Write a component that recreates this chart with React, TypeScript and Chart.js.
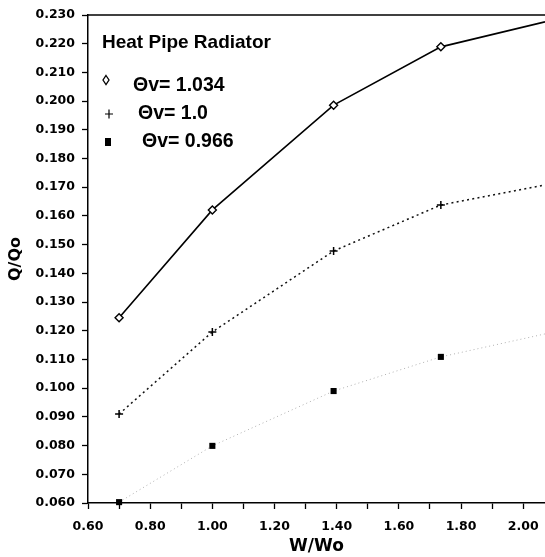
import React, { useEffect, useRef } from 'react';
import { Chart, registerables } from 'chart.js';

Chart.register(...registerables);

// ---- data ----
const wRatio = [0.70, 1.00, 1.39, 1.735, 2.07];
const qHigh = [0.1245, 0.1621, 0.1986, 0.2189, 0.2276];
const qMid = [0.0910, 0.1196, 0.1478, 0.1638, 0.1708];
const qLow = [0.0603, 0.0799, 0.0990, 0.1109, 0.1189];
const seriesLabels = ['Θv= 1.034', 'Θv= 1.0', 'Θv= 0.966'];
const legendTitle = 'Heat Pipe Radiator';
const xTitle = 'W/Wo';
const yTitle = 'Q/Qo';
const xMin = 0.6;
const xMax = 2.07;
const xStep = 0.1;
const yMin = 0.06;
const yMax = 0.23;
const yStep = 0.01;

const W = 545;
const H = 557;

const toPoints = (ys: number[]) => ys.map((y, i) => ({ x: wRatio[i], y }));
const radii = wRatio.map((x) => (x >= xMax ? 0 : 4));

const frameAndLegend = {
  id: 'frameAndLegend',
  afterDraw(chart: any) {
    const { ctx, chartArea } = chart;
    const { left, top, right } = chartArea;
    ctx.save();
    // top frame line
    ctx.strokeStyle = '#000';
    ctx.lineWidth = 1.5;
    ctx.beginPath();
    ctx.moveTo(left, top);
    ctx.lineTo(right, top);
    ctx.stroke();

    // legend title
    ctx.fillStyle = '#000';
    ctx.textBaseline = 'alphabetic';
    ctx.textAlign = 'left';
    ctx.font = 'bold 19px "Liberation Sans", Arial, sans-serif';
    ctx.fillText(legendTitle, left + 14, top + 33);

    ctx.font = 'bold 19.5px "Liberation Sans", Arial, sans-serif';
    // item 1: hollow diamond
    const d1x = left + 18, d1y = top + 65;
    ctx.lineWidth = 1.3;
    ctx.beginPath();
    ctx.moveTo(d1x, d1y - 4.5);
    ctx.lineTo(d1x + 3, d1y);
    ctx.lineTo(d1x, d1y + 4.5);
    ctx.lineTo(d1x - 3, d1y);
    ctx.closePath();
    ctx.stroke();
    ctx.fillText(seriesLabels[0], left + 45, top + 76);

    // item 2: plus
    const p2x = left + 21, p2y = top + 99;
    ctx.lineWidth = 1.2;
    ctx.beginPath();
    ctx.moveTo(p2x - 4, p2y);
    ctx.lineTo(p2x + 4, p2y);
    ctx.moveTo(p2x, p2y - 4.5);
    ctx.lineTo(p2x, p2y + 4.5);
    ctx.stroke();
    ctx.fillText(seriesLabels[1], left + 50, top + 104);

    // item 3: filled square
    const s3x = left + 20, s3y = top + 127;
    ctx.fillRect(s3x - 3, s3y - 4, 6, 8);
    ctx.fillText(seriesLabels[2], left + 54, top + 132);
    ctx.restore();
  },
};

export default function App() {
  const ref = useRef<HTMLCanvasElement | null>(null);

  useEffect(() => {
    if (!ref.current) return;
    const tickFont = { family: '"DejaVu Sans", Verdana, sans-serif', size: 12.5, weight: 'bold' as const };
    const chart = new Chart(ref.current, {
      type: 'line',
      data: {
        datasets: [
          {
            label: seriesLabels[0],
            data: toPoints(qHigh),
            borderColor: '#000',
            borderWidth: 1.6,
            pointStyle: 'rectRot',
            pointRadius: radii,
            pointBackgroundColor: '#fff',
            pointBorderColor: '#000',
            pointBorderWidth: 1.4,
            tension: 0,
            clip: false as any,
          },
          {
            label: seriesLabels[1],
            data: toPoints(qMid),
            borderColor: '#111',
            borderWidth: 1.5,
            borderDash: [2, 3.3],
            pointStyle: 'cross',
            pointRadius: radii,
            pointBorderColor: '#000',
            pointBorderWidth: 1.5,
            tension: 0,
            clip: false as any,
          },
          {
            label: seriesLabels[2],
            data: toPoints(qLow),
            borderColor: '#b0b0b0',
            borderWidth: 1,
            borderDash: [1, 3],
            pointStyle: 'rect',
            pointRadius: radii.map((r) => (r ? 4.3 : 0)),
            pointBackgroundColor: '#000',
            pointBorderColor: '#000',
            pointBorderWidth: 0,
            tension: 0,
            clip: false as any,
          },
        ],
      },
      options: {
        responsive: false,
        animation: false,
        layout: { autoPadding: false, padding: { top: 15, right: 0, left: 0, bottom: 0 } },
        plugins: {
          legend: { display: false },
          tooltip: { enabled: false },
        },
        scales: {
          x: {
            type: 'linear',
            min: xMin,
            max: xMax,
            afterFit: (s: any) => {
              s.height = 54;
              s.paddingRight = 0;
            },
            ticks: {
              stepSize: xStep,
              includeBounds: false,
              autoSkip: false,
              maxRotation: 0,
              color: '#000',
              font: tickFont,
              padding: 10,
              callback: (v: any) => {
                const n = Math.round(Number(v) * 10);
                return n % 2 === 0 ? (n / 10).toFixed(2) : '';
              },
            },
            grid: {
              display: true,
              drawOnChartArea: false,
              drawTicks: true,
              tickLength: 6,
              tickWidth: 1.3,
              tickColor: '#000',
            },
            border: { display: true, color: '#000', width: 1.5 },
            title: {
              display: true,
              text: xTitle,
              color: '#000',
              font: { family: '"DejaVu Sans", Verdana, sans-serif', size: 17, weight: 'bold' },
              padding: { top: 0, bottom: 0 },
            },
          },
          y: {
            type: 'linear',
            min: yMin,
            max: yMax,
            afterFit: (s: any) => {
              s.width = 88;
            },
            ticks: {
              stepSize: yStep,
              autoSkip: false,
              color: '#000',
              font: tickFont,
              padding: 7,
              callback: (v: any) => Number(v).toFixed(3),
            },
            grid: {
              display: true,
              drawOnChartArea: false,
              drawTicks: true,
              tickLength: 6,
              tickWidth: 1.3,
              tickColor: '#000',
            },
            border: { display: true, color: '#000', width: 1.5 },
            title: {
              display: true,
              text: yTitle,
              color: '#000',
              font: { family: '"DejaVu Sans", Verdana, sans-serif', size: 16, weight: 'bold' },
              padding: { top: 6, bottom: 0 },
            },
          },
        },
      },
      plugins: [frameAndLegend],
    });
    return () => chart.destroy();
  }, []);

  return (
    <div style={{ position: 'fixed', left: 0, top: 0, width: W, height: H, background: '#fff' }}>
      <canvas ref={ref} width={W} height={H} style={{ display: 'block', width: W, height: H }} />
    </div>
  );
}
